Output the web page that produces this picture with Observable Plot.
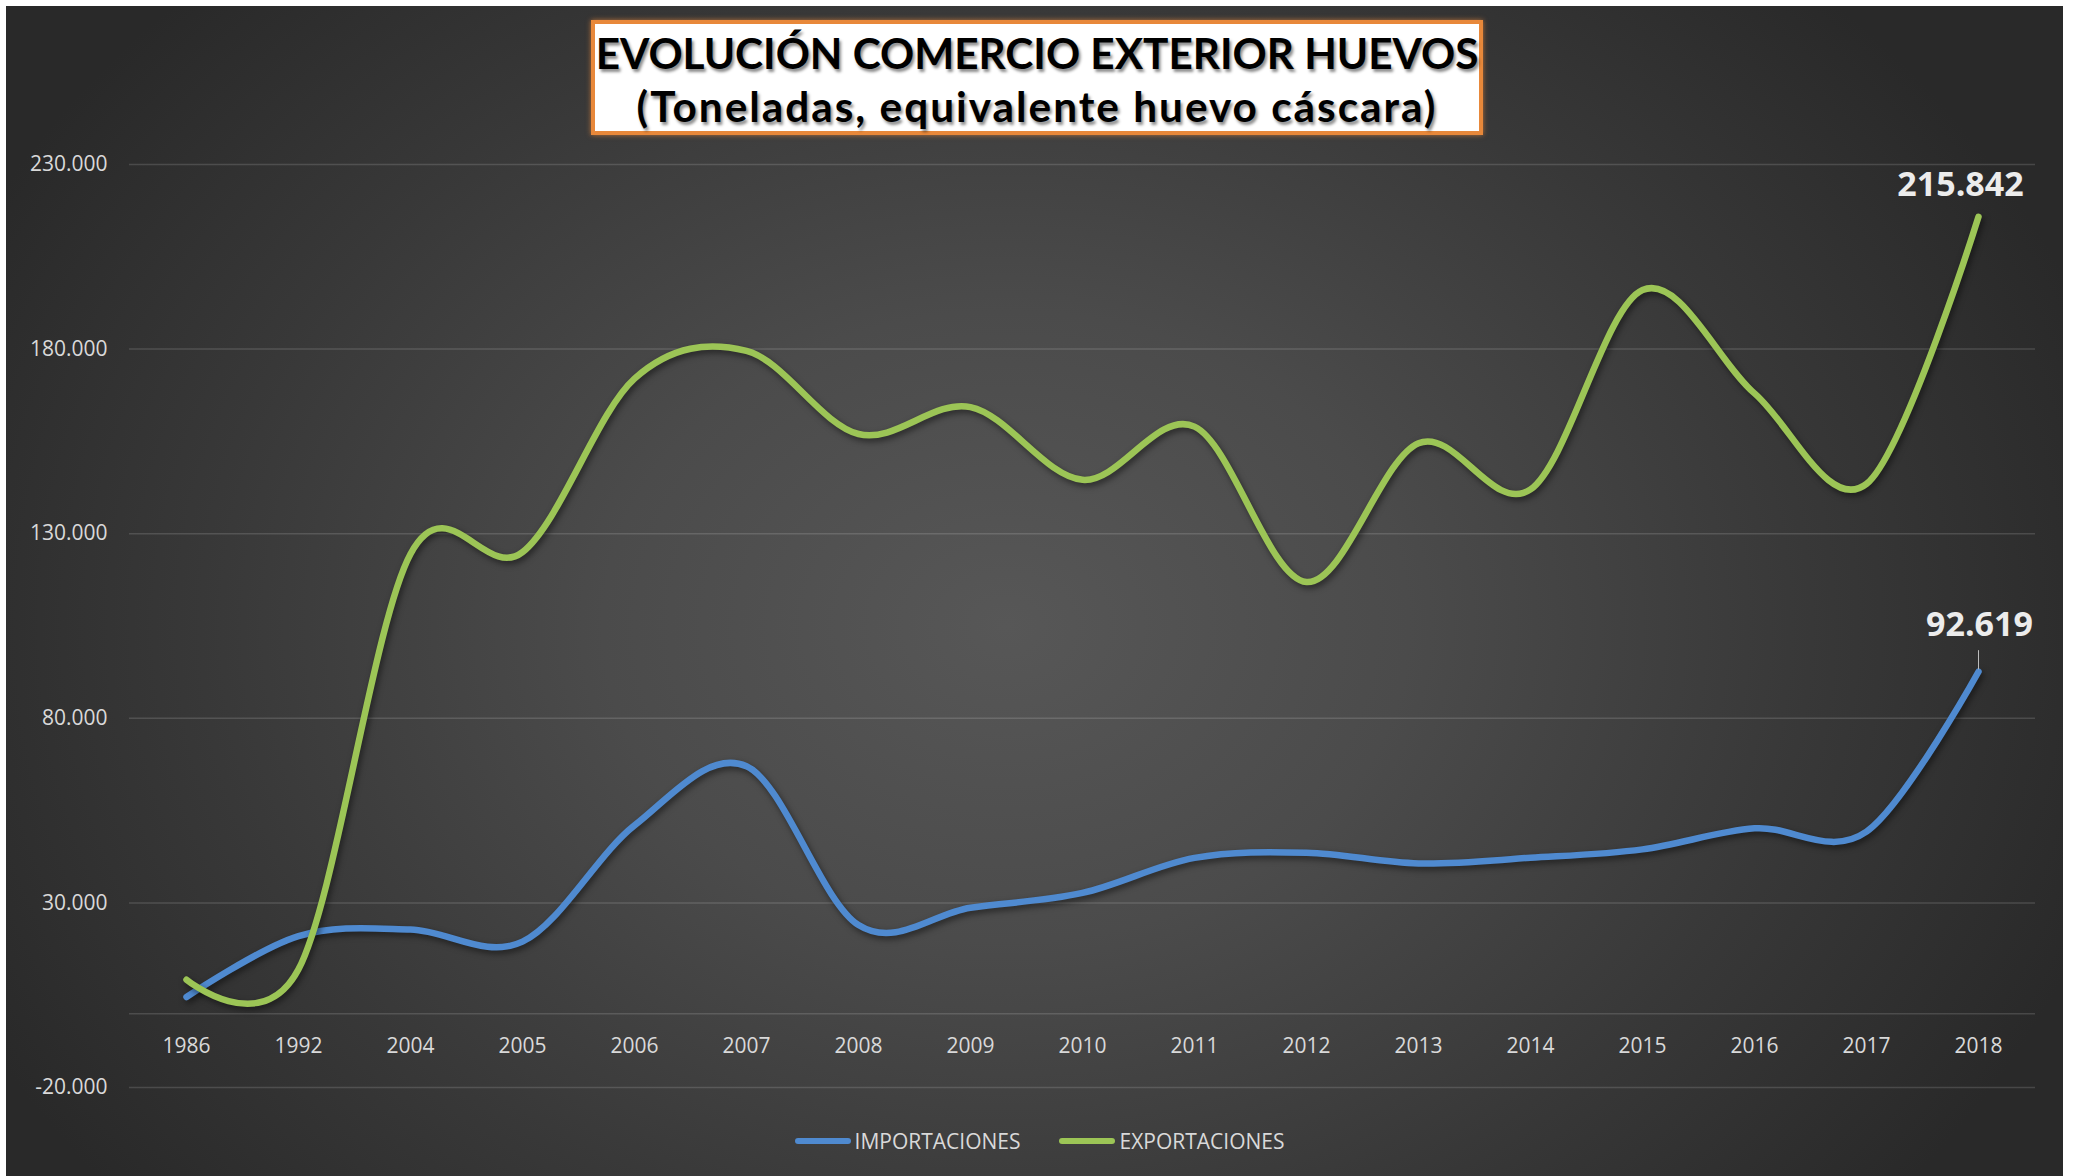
<!DOCTYPE html>
<html>
<head>
<meta charset="utf-8">
<script src="https://cdn.jsdelivr.net/npm/d3@7"></script>
<script src="https://cdn.jsdelivr.net/npm/@observablehq/plot@0.6"></script>
<style>
  html, body { margin: 0; padding: 0; background: #ffffff; }
  body { width: 2073px; height: 1176px; overflow: hidden; position: relative; font-family: "Open Sans", sans-serif; }
  #panel {
    position: absolute; left: 6px; top: 6px; width: 2057px; height: 1170px; overflow: hidden;
    background: radial-gradient(ellipse 1150px 900px at 1000px 620px, #575757 0%, #4b4b4b 35%, #383838 70%, #292929 100%);
  }
  #title {
    position: absolute; left: 585px; top: 14px; width: 892px; height: 115px; box-sizing: border-box;
    border: 4px solid #e8883a; background: #ffffff; box-shadow: 0 0 5px rgba(232,136,58,0.7);
    text-align: center; font-weight: 700; color: #000; font-family: Lato, "Open Sans", sans-serif;
    text-shadow: 2px 3px 3px rgba(0,0,0,0.45);
  }
  #title .ln { position: absolute; left: 0; right: 0; height: 50px; line-height: 50px; font-size: 43px; white-space: nowrap; }
  #title .ln span { display: inline-block; }
  #title .l1 { top: 4px; }
  #title .l2 { top: 57px; }
  #chart { position: absolute; left: 0; top: 140px; }
  #chart svg g[aria-label="line"] path { filter: drop-shadow(2px 3px 3px rgba(0,0,0,0.5)); }
  #legend {
    position: absolute; left: 5px; top: 1115px; width: 2057px; height: 40px;
    display: flex; justify-content: center; align-items: center;
    font-size: 21px; color: #d9d9d9; font-family: "Open Sans", sans-serif;
  }
  #legend .item { display: flex; align-items: center; }
  #legend .item + .item { margin-left: 39px; }
  #legend .sw { width: 56px; height: 6px; border-radius: 3px; margin-right: 4px; }
</style>
</head>
<body>
<div id="panel">
  <div id="title">
    <div class="ln l1"><span>EVOLUCIÓN COMERCIO EXTERIOR HUEVOS</span></div>
    <div class="ln l2"><span>(Toneladas, equivalente huevo cáscara)</span></div>
  </div>
  <div id="chart"></div>
  <div id="legend"></div>
</div>
<script>
// ---- Data (tonnes) ----
const years = ["1986","1992","2004","2005","2006","2007","2008","2009","2010","2011","2012","2013","2014","2015","2016","2017","2018"];
const importaciones = [4500, 21000, 22800, 19500, 51000, 67000, 24000, 28700, 32700, 42200, 43600, 40700, 42200, 44500, 50200, 49300, 92619];
const exportaciones = [9200, 12000, 124500, 125000, 172000, 179500, 157000, 164300, 144600, 159000, 116900, 154500, 142000, 196000, 168000, 143500, 215842];
const seriesNames = ["IMPORTACIONES", "EXPORTACIONES"];
const seriesColors = ["#4f8ad0", "#9cc556"];
const yTicks = [-20000, 30000, 80000, 130000, 180000, 230000];

const rows = [];
years.forEach((y, i) => rows.push({year: y, serie: "IMPORTACIONES", value: importaciones[i]}));
years.forEach((y, i) => rows.push({year: y, serie: "EXPORTACIONES", value: exportaciones[i]}));

const locale = d3.formatLocale({decimal: ",", thousands: ".", grouping: [3], currency: ["", " €"], minus: "-"});
const fmt = locale.format(",d");

const lastYear = years[years.length - 1];
const lastImp = rows.filter(d => d.serie === "IMPORTACIONES" && d.year === lastYear);
const lastExp = rows.filter(d => d.serie === "EXPORTACIONES" && d.year === lastYear);

const labelColor = "#d9d9d9";
const gridColor = "rgba(255,255,255,0.14)";

const chart = Plot.plot({
  width: 2057,
  height: 965,
  marginTop: 18,
  marginBottom: 24,
  marginLeft: 123,
  marginRight: 28,
  style: {background: "transparent", fontFamily: "'Open Sans', sans-serif", fontSize: "21px", color: labelColor, overflow: "visible"},
  x: {type: "point", domain: years, padding: 0.5, axis: null},
  y: {domain: [-20000, 230000], axis: null, label: null},
  color: {domain: seriesNames, range: seriesColors},
  marks: [
    Plot.ruleY(yTicks, {stroke: gridColor, strokeWidth: 1.5}),
    Plot.ruleY([0], {stroke: gridColor, strokeWidth: 1.5}),
    Plot.axisY({ticks: yTicks, tickSize: 0, tickPadding: 22, tickFormat: fmt, fill: labelColor, fontSize: 21, label: null}),
    Plot.text(years, {x: d => d, y: 0, dy: 33, fill: labelColor, fontSize: 21}),
    Plot.line(rows, {x: "year", y: "value", z: "serie", stroke: "serie", strokeWidth: 6.5, curve: "cardinal", strokeLinecap: "round", strokeLinejoin: "round"}),
    Plot.ruleX(lastImp, {x: "year", y1: d => d.value + 500, y2: d => d.value + 5700, stroke: "#bdbdbd", strokeWidth: 1}),
    Plot.text(lastExp, {x: "year", y: "value", text: d => fmt(d.value), dx: -18, dy: -32, fill: "#ececec", fontWeight: 700, fontSize: 34}),
    Plot.text(lastImp, {x: "year", y: "value", text: d => fmt(d.value), dx: 1, dy: -47, fill: "#ececec", fontWeight: 700, fontSize: 34})
  ]
});
document.getElementById("chart").appendChild(chart);

// Fit title lines to the widths they occupy in the reference
const spans = document.querySelectorAll("#title .ln span");
const w1 = spans[0].getBoundingClientRect().width;
let fs = 43;
if (w1 > 0) fs = Math.min(46, Math.max(38, 43 * 883 / w1));
spans[0].parentNode.style.fontSize = fs + "px";
spans[1].parentNode.style.fontSize = fs + "px";
const w2 = spans[1].getBoundingClientRect().width;
const n2 = spans[1].textContent.length;
if (w2 > 0 && w2 < 819) spans[1].style.letterSpacing = Math.min(2, (819 - w2) / n2) + "px";

const legend = document.getElementById("legend");
seriesNames.forEach((name, i) => {
  const item = document.createElement("div");
  item.className = "item";
  const sw = document.createElement("span");
  sw.className = "sw";
  sw.style.background = seriesColors[i];
  const tx = document.createElement("span");
  tx.textContent = name;
  item.appendChild(sw);
  item.appendChild(tx);
  legend.appendChild(item);
});
</script>
</body>
</html>
